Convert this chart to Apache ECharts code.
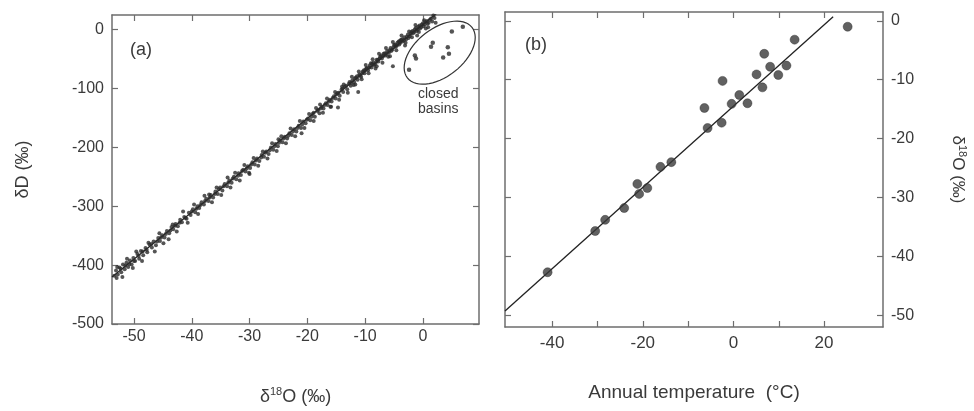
<!DOCTYPE html>
<html>
<head>
<meta charset="utf-8">
<script src="https://cdn.jsdelivr.net/npm/echarts@6/dist/echarts.min.js"></script>
<style>
  html, body { margin: 0; padding: 0; background: #fff; }
  #chart { width: 974px; height: 411px; }
</style>
</head>
<body>
<div id="chart"></div>
<script>
// (a) δ18O / δD of precipitation
const precipPoints = [
  [-53.4,-418],[-53.1,-409],[-52.8,-416],[-52.5,-404],[-52.2,-412],[-51.9,-399],[-51.6,-407],[-51.3,-396],
  [-51.0,-403],[-50.7,-392],[-50.4,-399],[-50.1,-388],[-49.8,-393],[-49.4,-381],[-49.1,-389],[-48.8,-376],
  [-48.4,-383],[-48.0,-371],[-47.7,-378],[-47.3,-365],[-46.9,-370],[-46.6,-360],[-46.2,-366],[-45.8,-354],
  [-45.5,-359],[-45.1,-349],[-44.7,-353],[-44.3,-342],[-44.0,-356],[-43.9,-346],[-43.5,-335],[-43.2,-339],
  [-42.8,-330],[-42.4,-334],[-42.0,-323],[-41.7,-327],[-41.3,-318],[-40.9,-321],[-40.5,-311],[-40.2,-315],
  [-39.8,-305],[-39.4,-310],[-39.0,-300],[-38.7,-303],[-38.3,-293],[-37.9,-297],[-37.5,-287],[-37.1,-291],
  [-37.0,-280],[-36.7,-281],[-36.3,-285],[-35.9,-275],[-35.5,-279],[-35.1,-268],[-34.7,-273],[-34.3,-262],
  [-33.9,-266],[-33.5,-256],[-33.1,-260],[-32.7,-250],[-32.3,-254],[-31.9,-244],[-31.5,-247],[-31.1,-238],
  [-30.7,-241],[-30.3,-232],[-30.0,-245],[-29.9,-235],[-29.5,-225],[-29.1,-229],[-28.7,-219],[-28.3,-223],
  [-27.9,-213],[-27.5,-216],[-27.1,-207],[-26.7,-211],[-26.3,-200],[-25.9,-204],[-25.5,-194],[-25.1,-198],
  [-25.0,-186],[-24.7,-188],[-24.3,-191],[-23.9,-182],[-23.5,-185],[-23.1,-176],[-22.7,-179],[-22.3,-169],
  [-21.9,-173],[-21.5,-163],[-21.1,-167],[-21.0,-176],[-20.7,-156],[-20.3,-159],[-19.9,-151],[-19.5,-154],
  [-19.1,-143],[-18.7,-148],[-18.5,-133],[-18.3,-138],[-17.9,-142],[-17.5,-131],[-17.2,-134],[-16.8,-125],
  [-16.5,-128],[-16.1,-119],[-16.0,-131],[-15.8,-122],[-15.4,-113],[-15.1,-117],[-14.8,-108],[-14.4,-112],
  [-14.1,-102],[-14.0,-97],[-13.8,-106],[-13.5,-97],[-13.1,-101],[-12.8,-92],[-12.5,-95],[-12.2,-86],
  [-12.0,-94],[-11.9,-89],[-11.6,-81],[-11.3,-85],[-11.0,-76],[-10.7,-80],[-10.4,-71],[-10.1,-74],
  [-10.0,-69],[-9.8,-66],[-9.5,-69],[-9.2,-61],[-9.0,-57],[-8.9,-64],[-8.6,-56],[-8.3,-59],[-8.0,-51],
  [-8.0,-62],[-7.7,-54],[-7.4,-46],[-7.1,-49],[-6.8,-41],[-6.5,-44],[-6.2,-36],[-6.0,-46],[-5.9,-39],
  [-5.6,-31],[-5.3,-34],[-5.0,-26],[-4.7,-29],[-4.4,-22],[-4.1,-25],[-4.0,-19],[-3.8,-17],[-3.5,-20],
  [-3.2,-13],[-3.0,-22],[-2.9,-16],[-2.6,-8],[-2.3,-11],[-2.0,-4],[-1.7,-6],[-1.4,1],[-1.1,-2],
  [-1.0,-10],[-0.8,5],[-0.5,2],[-0.2,9],[0.1,6],[0.4,13],[0.5,2],[0.8,10],[1.2,17],[1.6,14]
];
// second pass of dots on the other side of the band
const precipPoints2 = [
  [-53.0,-422],[-52.3,-406],[-51.5,-401],[-50.8,-398],[-50.0,-393],[-49.2,-384],[-48.5,-377],[-47.8,-374],
  [-47.0,-364],[-46.0,-360],[-45.3,-353],[-44.5,-347],[-43.7,-341],[-42.9,-333],[-42.1,-328],[-41.1,-320],
  [-40.0,-309],[-39.2,-304],[-38.5,-298],[-37.7,-291],[-36.9,-285],[-36.0,-279],[-35.3,-271],[-34.5,-266],
  [-33.7,-260],[-32.9,-253],[-32.0,-248],[-31.3,-240],[-30.5,-236],[-29.7,-229],[-28.9,-222],[-28.0,-217],
  [-27.3,-209],[-26.5,-205],[-25.7,-198],[-24.9,-192],[-24.1,-185],[-23.3,-180],[-22.5,-173],[-21.7,-167],
  [-20.9,-161],[-20.1,-153],[-19.3,-148],[-18.9,-141],[-18.1,-136],[-17.7,-134],[-17.0,-128],[-16.3,-122],
  [-15.6,-116],[-15.0,-110],[-14.6,-107],[-13.9,-100],[-13.3,-95],[-12.7,-89],[-12.4,-90],[-11.8,-83],
  [-11.4,-79],[-10.9,-78],[-10.5,-74],[-10.2,-69],[-9.7,-65],[-9.3,-64],[-8.8,-58],[-8.5,-60],[-8.1,-55],
  [-7.8,-51],[-7.5,-49],[-7.2,-44],[-6.9,-45],[-6.6,-40],[-6.3,-41],[-5.8,-35],[-5.5,-36],[-5.1,-30],
  [-4.8,-25],[-4.5,-27],[-4.2,-20],[-3.9,-22],[-3.6,-16],[-3.3,-18],[-2.8,-12],[-2.5,-14],[-2.1,-7],
  [-1.8,-2],[-1.5,-4],[-1.2,3],[-0.9,0],[-0.6,7],[-0.3,4],[0.0,11],[0.3,9],[0.7,15],[1.0,12],[1.4,19],[2.0,20]
];
// looser dots at the edges of the band
const precipPoints3 = [
  [-52.9,-403],[-52.0,-420],[-51.2,-389],[-50.2,-405],[-49.6,-377],[-48.6,-393],[-47.5,-362],[-46.4,-377],
  [-45.6,-346],[-44.9,-363],[-43.3,-331],[-42.6,-343],[-41.5,-309],[-40.7,-328],[-39.6,-297],[-38.9,-313],
  [-37.8,-282],[-36.5,-293],[-35.7,-268],[-34.9,-281],[-33.8,-251],[-33.3,-268],[-32.5,-243],[-31.7,-256],
  [-30.9,-230],[-30.1,-243],[-29.3,-218],[-28.5,-231],[-27.7,-207],[-26.9,-219],[-26.1,-193],[-25.3,-206],
  [-24.5,-181],[-23.7,-193],[-22.9,-168],[-22.1,-181],[-21.3,-155],[-20.5,-167],[-19.7,-143],[-18.9,-155],
  [-17.8,-127],[-17.3,-141],[-16.6,-117],[-15.9,-131],[-15.2,-106],[-14.5,-119],[-13.7,-93],[-13.0,-107],
  [-12.3,-80],[-11.7,-93],[-11.1,-71],[-10.6,-84],[-9.9,-60],[-9.4,-74],[-8.7,-50],[-8.2,-66],
  [-7.6,-41],[-7.0,-56],[-6.4,-31],[-5.7,-45],[-5.2,-21],[-4.6,-35],[-3.7,-10],[-3.1,-27],
  [-2.4,-3],[-1.9,-13],[-1.3,8],[-0.7,-4],[0.2,16],[0.9,4],[1.8,24],[2.2,12]
];
const outlierPoints = [[-14.7,-132],[-11.2,-106],[-5.2,-62]];
const closedBasinPoints = [
  [5.0,-3],[6.9,5],[1.7,-22],[1.4,-29],[4.3,-30],[4.5,-41],[3.5,-47],[-1.4,-44],[-1.2,-49],[-2.4,-68]
];
const mwlLine = [[-53.8,-420],[2.4,28]];
const ellipseCenter = [[2.9,-39]];

const aXTicks = [-50,-40,-30,-20,-10,0];
const aYTicks = [-500,-400,-300,-200,-100,0];

// (b) annual temperature vs δ18O
const tempC = [-41,-30.5,-28.3,-24.1,-21.2,-20.8,-19,-16.1,-13.7,-6.4,-5.7,-2.4,-2.6,-0.4,1.3,3.1,5.1,6.4,6.8,8.1,9.9,11.7,13.5,25.2];
const d18O  = [-42.7,-35.7,-33.8,-31.8,-27.7,-29.4,-28.4,-24.8,-24,-14.8,-18.2,-10.2,-17.3,-14.1,-12.6,-14,-9.1,-11.3,-5.6,-7.8,-9.2,-7.6,-3.2,-1.0];
const fitLine = [[-50.4,-49.3],[22,0.7]];

const bXTicks = [-40,-30,-20,-10,0,10,20];
const bXLabels = [-40,-20,0,20];
const bYTicks = [-50,-40,-30,-20,-10,0];

const FONT = "'Liberation Sans', Arial, sans-serif";
const AXIS_COLOR = "#6e6e6e";
const TEXT_COLOR = "#3a3a3a";
const DOT_COLOR = "#2b2b2b";

const chart = echarts.init(document.getElementById("chart"));

function frameAxis(opts) {
  return Object.assign({
    type: "value",
    axisLine: { show: true, onZero: false, lineStyle: { color: AXIS_COLOR, width: 1.5 } },
    axisTick: { show: true, inside: true, length: 5, lineStyle: { color: AXIS_COLOR, width: 1.2 } },
    axisLabel: { show: false },
    splitLine: { show: false },
  }, opts);
}

const supRich = (size) => ({
  n: { fontSize: size, lineHeight: size + 4, color: TEXT_COLOR, fontFamily: FONT },
  s: { fontSize: Math.round(size * 0.62), lineHeight: Math.round(size * 0.62), color: TEXT_COLOR, fontFamily: FONT, verticalAlign: "top" },
});

const option = {
  animation: false,
  backgroundColor: "#fff",
  textStyle: { fontFamily: FONT },
  grid: [
    { left: 112, right: 495, top: 15, bottom: 84 },
    { left: 505, right: 91, top: 12, bottom: 84 },
  ],
  xAxis: [
    frameAxis({
      gridIndex: 0, position: "bottom", min: -53.8, max: 9.7,
      axisTick: { show: true, inside: true, length: 6, customValues: aXTicks, lineStyle: { color: AXIS_COLOR, width: 1.2 } },
      axisLabel: { show: true, customValues: aXTicks, color: TEXT_COLOR, fontSize: 16, margin: 5, fontFamily: FONT },
      name: "{n|δ}{s|18}{n|O (‰)}", nameLocation: "middle", nameGap: 62,
      nameTextStyle: { rich: supRich(18) },
    }),
    frameAxis({
      gridIndex: 0, position: "top", min: -53.8, max: 9.7,
      axisTick: { show: true, inside: true, length: 6, customValues: aXTicks, lineStyle: { color: AXIS_COLOR, width: 1.2 } },
    }),
    frameAxis({
      gridIndex: 1, position: "bottom", min: -50.4, max: 33,
      axisTick: { show: true, inside: true, length: 6, customValues: bXTicks, lineStyle: { color: AXIS_COLOR, width: 1.2 } },
      axisLabel: { show: true, customValues: bXLabels, color: TEXT_COLOR, fontSize: 17, margin: 8, fontFamily: FONT },
      name: "Annual temperature  (°C)", nameLocation: "middle", nameGap: 56,
      nameTextStyle: { fontSize: 19, color: TEXT_COLOR, fontFamily: FONT },
    }),
    frameAxis({
      gridIndex: 1, position: "top", min: -50.4, max: 33,
      axisTick: { show: true, inside: true, length: 6, customValues: bXTicks, lineStyle: { color: AXIS_COLOR, width: 1.2 } },
    }),
  ],
  yAxis: [
    frameAxis({
      gridIndex: 0, position: "left", min: -500, max: 25,
      axisTick: { show: true, inside: true, length: 6, customValues: aYTicks, lineStyle: { color: AXIS_COLOR, width: 1.2 } },
      axisLabel: { show: true, customValues: aYTicks, color: TEXT_COLOR, fontSize: 16, margin: 8, fontFamily: FONT },
      name: "δD (‰)", nameLocation: "middle", nameGap: 80, nameRotate: 90,
      nameTextStyle: { fontSize: 18, color: TEXT_COLOR, fontFamily: FONT },
    }),
    frameAxis({
      gridIndex: 0, position: "right", min: -500, max: 25,
      axisTick: { show: true, inside: true, length: 6, customValues: aYTicks, lineStyle: { color: AXIS_COLOR, width: 1.2 } },
    }),
    frameAxis({
      gridIndex: 1, position: "right", min: -52, max: 1.5,
      axisTick: { show: true, inside: true, length: 6, customValues: bYTicks, lineStyle: { color: AXIS_COLOR, width: 1.2 } },
      axisLabel: { show: true, customValues: bYTicks, color: TEXT_COLOR, fontSize: 16, margin: 8, fontFamily: FONT },
      name: "{n|δ}{s|18}{n|O (‰)}", nameLocation: "middle", nameGap: 64, nameRotate: -90,
      nameTextStyle: { rich: supRich(17) },
    }),
    frameAxis({
      gridIndex: 1, position: "left", min: -52, max: 1.5,
      axisTick: { show: true, inside: true, length: 6, customValues: bYTicks, lineStyle: { color: AXIS_COLOR, width: 1.2 } },
    }),
  ],
  graphic: [
    { type: "text", left: 130, top: 41, style: { text: "(a)", fontSize: 18, fill: TEXT_COLOR, fontFamily: FONT } },
    { type: "text", left: 525, top: 36, style: { text: "(b)", fontSize: 18, fill: TEXT_COLOR, fontFamily: FONT } },
    { type: "text", left: 418, top: 87, style: { text: "closed\nbasins", fontSize: 14, lineHeight: 15, fill: TEXT_COLOR, fontFamily: FONT, align: "center" } },
  ],
  series: [
    {
      type: "line", xAxisIndex: 0, yAxisIndex: 0, data: mwlLine,
      showSymbol: false, lineStyle: { color: "#222", width: 1.3 }, z: 2,
    },
    {
      type: "scatter", xAxisIndex: 0, yAxisIndex: 0, data: precipPoints.concat(precipPoints2, precipPoints3, outlierPoints),
      symbolSize: 4, itemStyle: { color: DOT_COLOR }, z: 3,
    },
    {
      type: "scatter", xAxisIndex: 0, yAxisIndex: 0, data: closedBasinPoints,
      symbolSize: 4.5, itemStyle: { color: DOT_COLOR }, z: 3,
    },
    {
      type: "custom", xAxisIndex: 0, yAxisIndex: 0, data: ellipseCenter, z: 4,
      renderItem(params, api) {
        const c = api.coord([api.value(0), api.value(1)]);
        const a = 41, b = 24, th = 38 * Math.PI / 180;
        const pts = [];
        for (let i = 0; i < 60; i++) {
          const t = (i / 60) * Math.PI * 2;
          const ex = a * Math.cos(t), ey = b * Math.sin(t);
          pts.push([c[0] + ex * Math.cos(th) + ey * Math.sin(th), c[1] - ex * Math.sin(th) + ey * Math.cos(th)]);
        }
        return { type: "polygon", shape: { points: pts }, style: { fill: "none", stroke: "#333", lineWidth: 1.2 } };
      },
    },
    {
      type: "line", xAxisIndex: 2, yAxisIndex: 2, data: fitLine,
      showSymbol: false, lineStyle: { color: "#222", width: 1.3 }, z: 2,
    },
    {
      type: "scatter", xAxisIndex: 2, yAxisIndex: 2, data: tempC.map((t, i) => [t, d18O[i]]),
      symbolSize: 9, itemStyle: { color: "#3a3a3a", borderColor: "#222", borderWidth: 0.5 }, z: 3,
    },
  ],
};

chart.setOption(option);
</script>
</body>
</html>
